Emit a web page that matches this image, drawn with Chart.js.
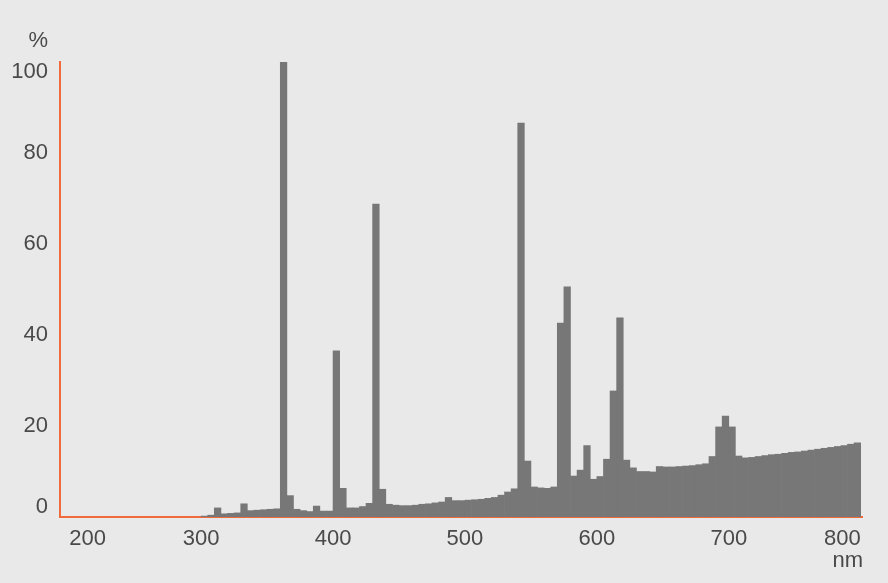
<!DOCTYPE html>
<html>
<head>
<meta charset="utf-8">
<script src="https://cdn.jsdelivr.net/npm/chart.js@4.4.1/dist/chart.umd.min.js"></script>
<style>
  html, body { margin: 0; padding: 0; background: #e9e9e9; }
  #wrap { width: 888px; height: 583px; }
</style>
</head>
<body>
<div id="wrap"><canvas id="chart" width="888" height="583"></canvas></div>
<script>
'use strict';

// start of each 5 nm band
const wavelengths = [
  300, 305, 310, 315, 320, 325, 330, 335, 340, 345,
  350, 355, 360, 365, 370, 375, 380, 385, 390, 395,
  400, 405, 410, 415, 420, 425, 430, 435, 440, 445,
  450, 455, 460, 465, 470, 475, 480, 485, 490, 495,
  500, 505, 510, 515, 520, 525, 530, 535, 540, 545,
  550, 555, 560, 565, 570, 575, 580, 585, 590, 595,
  600, 605, 610, 615, 620, 625, 630, 635, 640, 645,
  650, 655, 660, 665, 670, 675, 680, 685, 690, 695,
  700, 705, 710, 715, 720, 725, 730, 735, 740, 745,
  750, 755, 760, 765, 770, 775, 780, 785, 790, 795
]
// relative intensity in %
const intensity = [
  0.2, 0.4, 2.0, 0.7, 0.8, 0.9, 2.9, 1.4, 1.5, 1.6,
  1.7, 1.8, 100, 4.7, 1.7, 1.4, 1.2, 2.4, 1.3, 1.3,
  36.5, 6.3, 2.0, 2.0, 2.3, 3.0, 68.8, 6.1, 2.8, 2.6,
  2.5, 2.5, 2.6, 2.8, 2.9, 3.1, 3.3, 4.3, 3.6, 3.6,
  3.7, 3.8, 3.9, 4.1, 4.3, 4.8, 5.5, 6.2, 86.6, 12.3,
  6.6, 6.4, 6.3, 6.6, 42.6, 50.6, 9.0, 10.3, 15.7, 8.3,
  8.9, 12.7, 27.7, 43.8, 12.5, 10.8, 10.0, 10.0, 9.9, 11.1,
  11.0, 11.0, 11.1, 11.2, 11.3, 11.5, 11.7, 13.3, 19.8, 22.2,
  19.8, 13.4, 13.0, 13.1, 13.3, 13.5, 13.7, 13.8, 14.0, 14.2,
  14.3, 14.5, 14.7, 14.9, 15.1, 15.3, 15.5, 15.7, 16.0, 16.3
]
const bandWidth = 5
const xTicks = [200, 300, 400, 500, 600, 700, 800]
const yTicks = [0, 20, 40, 60, 80, 100]

const FONT = '"Liberation Sans", Arial, sans-serif'
const textColor = '#4a4a4a'
const orange = '#f06a3c'

const points = wavelengths.map((w, i) => ({ x: w + bandWidth / 2, y: intensity[i] }))

// unit labels "%" and "nm"
const unitLabels = {
  id: 'unitLabels',
  afterDraw(chart) {
    const ctx = chart.ctx
    ctx.save()
    ctx.font = '22px ' + FONT
    ctx.fillStyle = textColor
    ctx.textAlign = 'right'
    ctx.textBaseline = 'middle'
    ctx.fillText('%', 48, 41)
    ctx.fillText('nm', chart.chartArea.right + 1, 561)
    ctx.restore()
  }
}

const config = {
  type: 'bar',
  data: {
    datasets: [{
      data: points,
      backgroundColor: '#777777',
      borderWidth: 0,
      barPercentage: 1,
      categoryPercentage: 1,
    }]
  },
  options: {
    responsive: false,
    animation: false,
    devicePixelRatio: 1,
    layout: { padding: { top: 62, right: 26, bottom: 0, left: 0 } },
    plugins: { legend: { display: false }, tooltip: { enabled: false } },
    scales: {
      x: {
        type: 'linear',
        min: 193,
        max: 801,
        offset: false,
        afterBuildTicks(scale) { scale.ticks = xTicks.map(v => ({ value: v })) },
        afterFit(scale) { scale.height = 66 },
        grid: { display: false, drawTicks: false },
        border: { display: true, color: orange, width: 2 },
        ticks: {
          align: 'inner',
          padding: 9,
          color: textColor,
          font: { family: FONT, size: 22 },
          maxRotation: 0,
          autoSkip: false,
        }
      },
      y: {
        min: 0,
        max: 100,
        afterBuildTicks(scale) { scale.ticks = yTicks.map(v => ({ value: v })) },
        afterFit(scale) { scale.width = 60 },
        grid: { display: false, drawTicks: false },
        border: { display: true, color: orange, width: 2 },
        ticks: {
          padding: 12,
          color: textColor,
          font: { family: FONT, size: 22, lineHeight: 0.9 },
          // keep the end labels inside the axis span
          callback: v => v === 0 ? ['0', ''] : v === 100 ? ['', '100'] : String(v),
        }
      }
    }
  },
  plugins: [unitLabels]
}

const resultChart = new Chart(document.getElementById('chart'), config)
</script>
</body>
</html>
